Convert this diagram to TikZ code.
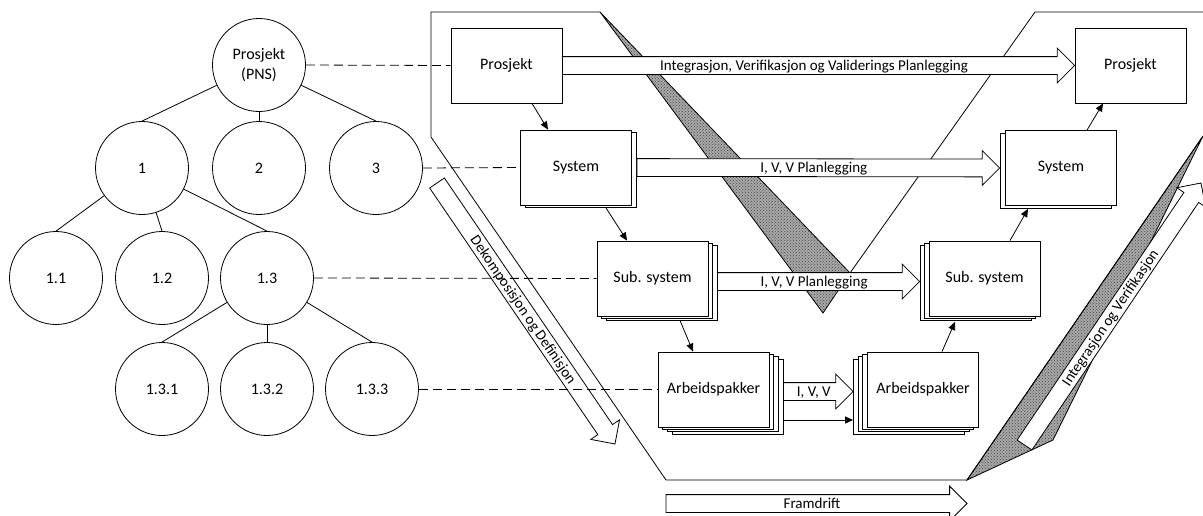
\documentclass[tikz,border=0pt]{standalone}
\usepackage{fontspec}
\setmainfont{Carlito}
\usetikzlibrary{arrows.meta, calc, shapes.arrows, shadows, patterns}

% block arrow from one point to another, text centred in it
\newcommand{\ivvarrow}[4]{%
  \path let \p1=#2, \p2=#3,
      \n1={atan2(\y2-\y1,\x2-\x1)},
      \n2={veclen(\x2-\x1,\y2-\y1)} in
    node[bigarrow, minimum height=\n2, rotate=\n1, anchor=tail] (#1) at (\p1) {#4};}

\begin{document}
\begin{tikzpicture}[x=1pt, y=-1pt, line width=0.8pt,
    wbs/.style={circle, draw, fill=white, minimum size=93pt, inner sep=0pt,
      align=center, font=\fontsize{16}{19.5}\selectfont},
    stage/.style={rectangle, draw, fill=white, minimum width=111pt,
      minimum height=75pt, inner sep=0pt, font=\fontsize{16}{19}\selectfont},
    layer/.style 2 args={copy shadow={shadow xshift=#1, shadow yshift=#2}},
    bigarrow/.style={single arrow, draw, fill=white, single arrow head extend=8.5pt,
      inner xsep=2pt, inner ysep=1.25pt, text height=12pt, text depth=2.5pt,
      outer sep=0pt, font=\fontsize{15}{18}\selectfont},
    band/.style={draw, preaction={fill=black!35}, pattern=crosshatch dots,
      pattern color=black!70},
    link/.style={-{Triangle[length=8pt,width=7pt]}},
    trace/.style={dash pattern=on 9pt off 5pt}]

    \clip (0,0) rectangle (1203,515);

    % --- V shape ---
    % shaded bands
    \draw[band] (600,12) -- (850,273) -- (823,313) -- cycle;
    \draw[band] (967,480) -- (1203,136) -- (1053,440) -- cycle;

    % outline
    \draw (1203,12) -- (1035,12) -- (850,273);
    \draw (600,12) -- (431,12) -- (431,137) -- (666,480) -- (967,480) -- (1203,136);

    % --- Left leg: decomposition ---
    \node[stage] (pl) at (506.5,65.5) {Prosjekt};
    \node[stage, layer={5pt}{-2.5pt}] (sl) at (576,167.5) {System};
    \node[stage, layer={9pt}{-4pt}, layer={4.5pt}{-2pt}] (ssl) at (652.5,278.5) {Sub. system};
    \node[stage, layer={14pt}{-7pt}, layer={9.4pt}{-4.6pt}, layer={4.7pt}{-2.3pt}]
      (al) at (713.5,389.5) {Arbeidspakker};

    % --- Right leg: integration ---
    \node[stage] (pr) at (1130.5,65.5) {Prosjekt};
    \node[stage, layer={-5.5pt}{-2.5pt}] (sr) at (1061,168) {System};
    \node[stage, layer={-9pt}{-4pt}, layer={-4.5pt}{-2pt}] (ssr) at (984.5,278.5) {Sub. system};
    \node[stage, layer={-14pt}{-7pt}, layer={-9.4pt}{-4.6pt}, layer={-4.7pt}{-2.3pt}]
      (ar) at (923,389.5) {Arbeidspakker};

    % --- Planning arrows ---
    \ivvarrow{ivvP}{(pl.east)}{(pr.west)}{Integrasjon, Verifikasjon og Validerings Planlegging}
    \ivvarrow{ivvS}{([xshift=5pt]sl.east)}{([xshift=-5.5pt]sr.west)}{I, V, V Planlegging}
    \ivvarrow{ivvSS}{([xshift=9pt,yshift=-3pt]ssl.east)}{([xshift=-9pt,yshift=-3pt]ssr.west)}{I, V, V Planlegging}
    \ivvarrow{ivvA}{([xshift=14pt,yshift=-2pt]al.east)}{([xshift=-14pt,yshift=-2pt]ar.west)}{I, V, V}
    \draw[link] ([xshift=14pt,yshift=-30.5pt]al.east) -- ([xshift=-14pt,yshift=-30.5pt]ar.west);

    % --- Direction arrows ---
    \coordinate (dekA) at (437,183);
    \coordinate (dekB) at (615,444);
    \coordinate (intA) at (1024.5,445);
    \coordinate (intB) at (1201,183);
    \coordinate (frA) at (666,503.5);
    \coordinate (frB) at (967,503.5);
    \ivvarrow{dek}{(dekA)}{(dekB)}{Dekomposisjon og Definisjon}
    \ivvarrow{int}{(intA)}{(intB)}{Integrasjon og Verifikasjon}
    \ivvarrow{frem}{(frA)}{(frB)}{Framdrift}

    % --- Links between levels ---
    \draw[link] ([xshift=25.5pt]pl.south) -- ([xshift=-28pt]sl.north);
    \draw[link] ([xshift=30pt,yshift=-2.5pt]sl.south) -- ([xshift=-25.5pt]ssl.north);
    \draw[link] ([xshift=27.5pt,yshift=-4pt]ssl.south) -- ([xshift=-20.5pt]al.north);
    \draw[link] ([xshift=19pt]ar.north) -- ([xshift=-29.5pt,yshift=-5.5pt]ssr.south);
    \draw[link] ([xshift=25.5pt]ssr.north) -- ([xshift=-33pt,yshift=-3pt]sr.south);
    \draw[link] ([xshift=26pt]sr.north) -- ([xshift=-27.5pt]pr.south);

    % --- Work breakdown tree ---
    \node[wbs] (root) at (259,65) {Prosjekt\\(PNS)};
    \node[wbs] (c1) at (142,168) {1};
    \node[wbs] (c2) at (259,168) {2};
    \node[wbs] (c3) at (376,168) {3};
    \node[wbs] (c11) at (56,278) {1.1};
    \node[wbs] (c12) at (162,278) {1.2};
    \node[wbs] (c13) at (267,278) {1.3};
    \node[wbs] (c131) at (162,389) {1.3.1};
    \node[wbs] (c132) at (267,389) {1.3.2};
    \node[wbs] (c133) at (372,389) {1.3.3};

    \draw (root) -- (c1.north);
    \draw (root) -- (c2.north);
    \draw (root) -- (c3.north);
    \draw (c1) -- (c11.north);
    \draw (c1) -- (c12.north);
    \draw (c1) -- (c13.north);
    \draw (c13) -- (c131.north);
    \draw (c13) -- (c132.north);
    \draw (c13) -- (c133.north);

    % tree to V levels
    \draw[trace] (root.east) -- (pl.west);
    \draw[trace] (c3.east) -- (sl.west);
    \draw[trace] (c13.east) -- (ssl.west);
    \draw[trace] (c133.east) -- (c133.east -| al.west);

\end{tikzpicture}
\end{document}
